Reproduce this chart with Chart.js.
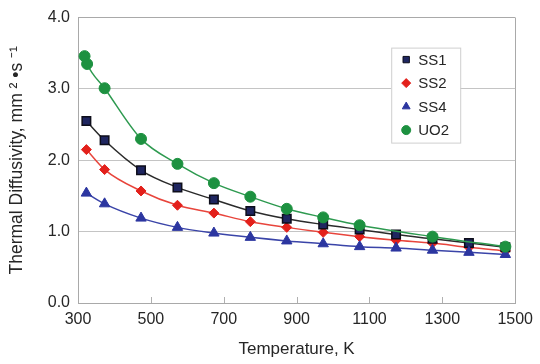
<!DOCTYPE html>
<html>
<head>
<meta charset="utf-8">
<script src="https://cdn.jsdelivr.net/npm/chart.js@4.4.0/dist/chart.umd.min.js"></script>
<style>
  html, body { margin: 0; padding: 0; background: #fff; }
  #wrap { width: 540px; height: 364px; }
</style>
</head>
<body>
<div id="wrap"><canvas id="myChart" width="540" height="364"></canvas></div>
<script>
// temperatures (K) and diffusivity values (mm2/s)
var ssTemps = [323, 373, 473, 573, 673, 773, 873, 973, 1073, 1173, 1273, 1373, 1473];
var ss1 = [2.55, 2.28, 1.86, 1.62, 1.45, 1.29, 1.18, 1.10, 1.03, 0.96, 0.90, 0.84, 0.78];
var ss2 = [2.15, 1.87, 1.57, 1.37, 1.26, 1.14, 1.06, 0.99, 0.93, 0.88, 0.84, 0.78, 0.73];
var ss4 = [1.54, 1.39, 1.19, 1.06, 0.98, 0.92, 0.87, 0.83, 0.79, 0.77, 0.74, 0.71, 0.68];
var uo2Temps = [318, 325, 373, 473, 573, 673, 773, 873, 973, 1073, 1273, 1473];
var uo2 = [3.46, 3.35, 3.01, 2.30, 1.95, 1.68, 1.49, 1.32, 1.20, 1.09, 0.93, 0.79];
var xTicks = [300, 500, 700, 900, 1100, 1300, 1500];
var yTicks = [0, 1, 2, 3, 4];

function pairs(xs, ys) {
  return xs.map(function (x, i) { return { x: x, y: ys[i] }; });
}

var FONT = "'Liberation Sans', Arial, sans-serif";
var TEXT = "#262626";

// legend box drawn inside the plot, top right
var boxLegend = {
  id: "boxLegend",
  afterDraw: function (chart) {
    var ctx = chart.ctx;
    var area = chart.chartArea;
    var x = area.right - 124, y = area.top + 30, w = 69, h = 95;
    ctx.save();
    ctx.fillStyle = "#fff";
    ctx.fillRect(x, y, w, h);
    ctx.strokeStyle = "#cfcfcf";
    ctx.lineWidth = 1;
    ctx.strokeRect(x + 0.5, y + 0.5, w, h);
    ctx.font = "15px " + FONT;
    ctx.textBaseline = "middle";
    chart.data.datasets.forEach(function (ds, i) {
      var cy = y + 12 + i * 23.5;
      ctx.fillStyle = ds.pointBackgroundColor;
      ctx.strokeStyle = ds.pointBorderColor;
      Chart.helpers.drawPoint(ctx, { pointStyle: ds.pointStyle, radius: 4.5, borderWidth: 1, rotation: 0 }, x + 15, cy);
      ctx.fillStyle = TEXT;
      ctx.fillText(ds.label, x + 27, cy + 1);
    });
    ctx.restore();
  }
};

// small inward tick marks on the bottom axis
var innerTicks = {
  id: "innerTicks",
  afterDatasetsDraw: function (chart) {
    var ctx = chart.ctx;
    var xs = chart.scales.x;
    var bottom = chart.chartArea.bottom;
    ctx.save();
    ctx.strokeStyle = "#b0b0b0";
    ctx.lineWidth = 1;
    xTicks.slice(1, -1).forEach(function (t) {
      var px = Math.round(xs.getPixelForValue(t)) + 0.5;
      ctx.beginPath();
      ctx.moveTo(px, bottom);
      ctx.lineTo(px, bottom - 6);
      ctx.stroke();
    });
    ctx.restore();
  }
};

var ctx = document.getElementById("myChart");
var myChart = new Chart(ctx, {
  type: "line",
  data: {
    datasets: [
      {
        label: "SS1",
        data: pairs(ssTemps, ss1),
        borderColor: "#2b2b2b",
        pointBackgroundColor: "#1f2660",
        pointBorderColor: "#0d0d1a",
        pointStyle: "rect",
        pointRadius: 6,
        pointBorderWidth: 1.5,
        order: 2,
      },
      {
        label: "SS2",
        data: pairs(ssTemps, ss2),
        borderColor: "#e8453c",
        pointBackgroundColor: "#e3201b",
        pointBorderColor: "#e3201b",
        pointStyle: "rectRot",
        pointRadius: 5,
        pointBorderWidth: 1,
        order: 3,
      },
      {
        label: "SS4",
        data: pairs(ssTemps, ss4),
        borderColor: "#3a44a8",
        pointBackgroundColor: "#2c36a0",
        pointBorderColor: "#2c36a0",
        pointStyle: "triangle",
        pointRadius: 6,
        pointBorderWidth: 1,
        order: 1,
      },
      {
        label: "UO2",
        data: pairs(uo2Temps, uo2),
        borderColor: "#2e9a50",
        pointBackgroundColor: "#1d9140",
        pointBorderColor: "#1d9140",
        pointStyle: "circle",
        pointRadius: 5.5,
        pointBorderWidth: 1,
        order: 0,
      },
    ],
  },
  options: {
    responsive: false,
    animation: false,
    events: [],
    layout: { padding: { top: 13, right: 23, left: 0, bottom: 0 } },
    elements: {
      line: { borderWidth: 1.5, tension: 0.4, cubicInterpolationMode: "monotone" },
    },
    plugins: {
      legend: { display: false },
      tooltip: { enabled: false },
    },
    scales: {
      x: {
        type: "linear",
        min: 300,
        max: 1500,
        afterBuildTicks: function (scale) {
          scale.ticks = xTicks.map(function (v) { return { value: v }; });
        },
        afterFit: function (scale) { scale.height = 61; },
        grid: {
          drawTicks: false,
          color: function (c) { return c.tick && c.tick.value === 1500 ? "#a9a9a9" : "transparent"; },
        },
        border: { color: "#a9a9a9", width: 1 },
        ticks: {
          color: TEXT,
          padding: 7,
          maxRotation: 0,
          autoSkip: false,
          font: { size: 16, family: FONT },
          callback: function (v) { return String(v); },
        },
        title: {
          display: true,
          text: "Temperature, K",
          color: TEXT,
          padding: { top: 1 },
          font: { size: 17, family: FONT },
        },
      },
      y: {
        min: 0,
        max: 4,
        afterBuildTicks: function (scale) {
          scale.ticks = yTicks.map(function (v) { return { value: v }; });
        },
        afterFit: function (scale) { scale.width = 78; },
        grid: {
          drawTicks: false,
          color: function (c) { return c.tick && c.tick.value === 0 ? "transparent" : (c.tick && c.tick.value === 4 ? "#a9a9a9" : "#c4c4c4"); },
        },
        border: { color: "#a9a9a9", width: 1 },
        ticks: {
          color: TEXT,
          padding: 8,
          font: { size: 16, family: FONT },
          callback: function (v) { return v.toFixed(1); },
        },
        title: {
          display: true,
          text: "Thermal Diffusivity, mm \u00B2 \u2022s \u207B\u00B9",
          color: TEXT,
          padding: { top: 7, bottom: 0 },
          font: { size: 17.5, family: FONT },
        },
      },
    },
  },
  plugins: [innerTicks, boxLegend],
});
</script>
</body>
</html>
